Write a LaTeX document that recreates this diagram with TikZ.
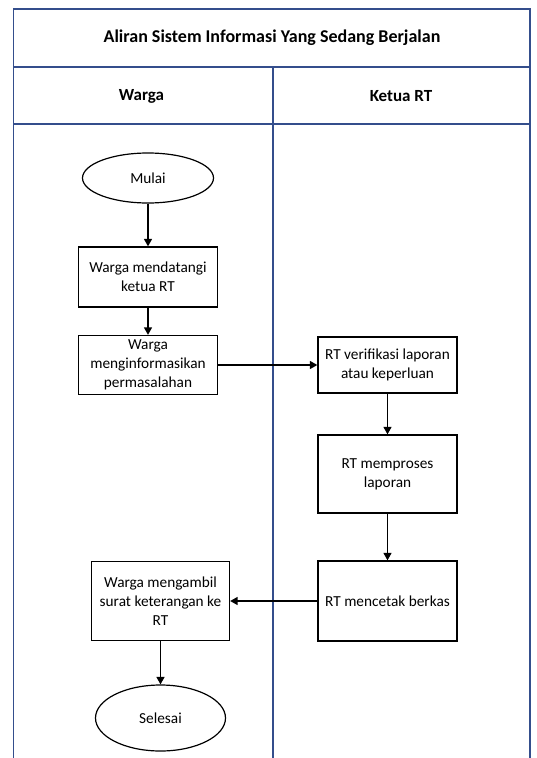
\documentclass[tikz,border=0pt]{standalone}
\usepackage{fontspec}
\setmainfont{Carlito}
\usetikzlibrary{shapes.geometric,arrows.meta}
\definecolor{frameblue}{RGB}{52,78,140}
\tikzset{
  frameline/.style={draw=frameblue,line width=1.5pt},
  procbox/.style={draw=black,line width=1.3pt,rectangle,align=center,inner sep=2pt,
     font=\fontsize{15.3}{18.8}\selectfont},
  termnode/.style={draw=black,line width=1.2pt,ellipse,inner sep=0pt,
     font=\fontsize{15.3}{18.8}\selectfont},
  flow/.style={draw=black,line width=1.4pt,-{Triangle[width=8pt,length=7.5pt]}},
  headtext/.style={font=\fontsize{17}{20}\selectfont\bfseries},
  titletext/.style={font=\fontsize{18}{21}\selectfont\bfseries},
}
\begin{document}
\begin{tikzpicture}[x=1pt,y=-1pt]
\useasboundingbox (0,0) rectangle (536,758);
% frame
\draw[frameline] (13.5,758) -- (13.5,9) -- (530,9) -- (530,758);
\draw[frameline] (13.5,67) -- (530,67);
\draw[frameline] (13.5,124) -- (530,124);
\draw[frameline] (273,67) -- (273,758);
\node[titletext] (title) at (272,38) {Aliran Sistem Informasi Yang Sedang Berjalan};
\node[headtext] (hwarga) at (141.5,96) {Warga};
\node[headtext] (hrt) at (401,96) {Ketua RT};
% nodes
\node[termnode,minimum width=131pt,minimum height=50pt] (mulai) at (148,178) {Mulai};
\node[procbox,minimum width=139pt,minimum height=60pt] (b1) at (148,277) {Warga mendatangi\\ketua RT};
\node[procbox,minimum width=139pt,minimum height=59pt] (b2) at (148,365) {Warga\\menginformasikan\\permasalahan};
\node[procbox,minimum width=139pt,minimum height=56pt] (b3) at (387.5,365) {RT verifikasi laporan\\atau keperluan};
\node[procbox,minimum width=139pt,minimum height=78pt] (b4) at (387.5,474) {RT memproses\\laporan};
\node[procbox,minimum width=139pt,minimum height=80pt] (b5) at (387.5,601) {RT mencetak berkas};
\node[procbox,minimum width=138pt,minimum height=79pt] (b6) at (160.5,601) {Warga mengambil\\surat keterangan ke\\RT};
\node[termnode,minimum width=130pt,minimum height=66pt] (selesai) at (160.5,718) {Selesai};
% connectors
\draw[flow] (mulai) -- (b1);
\draw[flow] (b1) -- (b2);
\draw[flow] (b2) -- (b3);
\draw[flow] (b3) -- (b4);
\draw[flow] (b4) -- (b5);
\draw[flow] (b5) -- (b6);
\draw[flow] (b6) -- (selesai);
\end{tikzpicture}
\end{document}
